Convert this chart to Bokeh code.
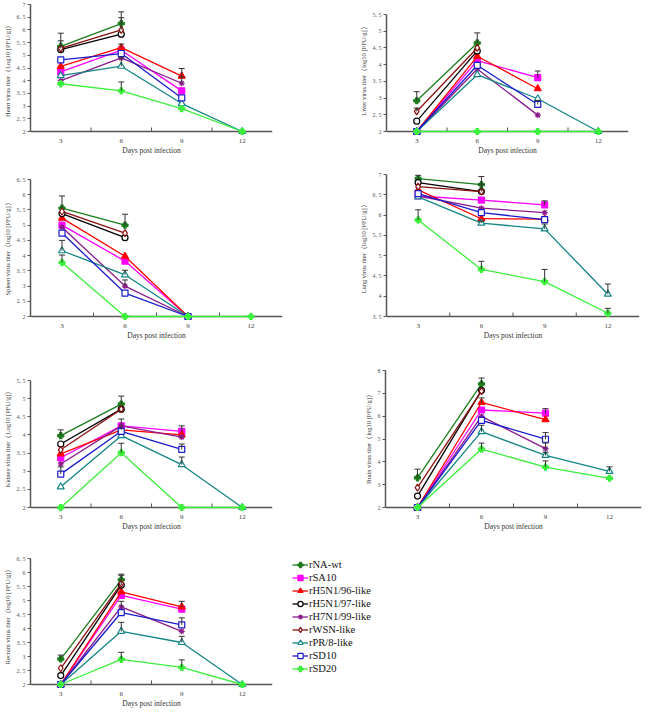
import numpy as np
from bokeh.plotting import figure
from bokeh.models import (Range1d, FixedTicker, Whisker, ColumnDataSource, TeeHead,
                          Legend, LegendItem, CustomJSTickFormatter, Span)
from bokeh.layouts import column, row
from bokeh.embed import file_html
from bokeh.resources import INLINE

# ---------------- data ----------------
days = [3, 6, 9, 12]
day_ticks = [3, 6, 9, 12]
day_boundaries = [4.5, 7.5, 10.5]
strains = ["rNA-wt", "rSA10", "rH5N1/96-like", "rH5N1/97-like", "rH7N1/99-like",
           "rWSN-like", "rPR/8-like", "rSD10", "rSD20"]

heart_vals = [
    [5.35, 6.25, None, None],
    [4.35, 5.20, 3.60, None],
    [4.56, 5.30, 4.18, None],
    [5.22, 5.83, None, None],
    [4.00, 4.90, 3.90, None],
    [5.27, 6.00, None, None],
    [4.20, 4.57, 3.10, 2.00],
    [4.82, 5.07, 3.32, None],
    [3.88, 3.60, 2.90, 2.00],
]
heart_errs = [
    [0.52, 0.46, 0, 0],
    [0, 0, 0, 0],
    [0, 0.14, 0.30, 0],
    [0, 0, 0, 0],
    [0, 0, 0.25, 0],
    [0.30, 0.48, 0, 0],
    [0, 0.35, 0, 0],
    [0, 0, 0, 0],
    [0, 0.35, 0, 0],
]

liver_vals = [
    [2.92, 4.65, None, None],
    [2.00, 4.12, 3.61, None],
    [2.00, 4.25, 3.28, None],
    [2.31, 4.41, None, None],
    [2.00, 3.87, 2.49, None],
    [2.60, 4.50, None, None],
    [2.00, 3.70, 2.98, 2.00],
    [2.00, 3.98, 2.81, None],
    [2.00, 2.00, 2.00, 2.00],
]
liver_errs = [
    [0.27, 0.30, 0, 0],
    [0, 0, 0.20, 0],
    [0, 0, 0, 0],
    [0, 0, 0, 0],
    [0, 0, 0, 0],
    [0.10, 0, 0, 0],
    [0, 0, 0, 0],
    [0, 0, 0.12, 0],
    [0, 0, 0, 0],
]

spleen_vals = [
    [5.56, 5.00, None, None],
    [5.00, 3.82, 2.00, None],
    [5.23, 3.98, 2.00, None],
    [5.38, 4.59, None, None],
    [4.93, 3.00, 2.00, None],
    [5.45, 4.74, None, None],
    [4.16, 3.37, 2.00, None],
    [4.74, 2.77, 2.00, None],
    [3.77, 2.00, 2.00, 2.00],
]
spleen_errs = [
    [0.40, 0.36, 0, 0],
    [0, 0, 0, 0],
    [0, 0, 0, 0],
    [0, 0, 0, 0],
    [0, 0.20, 0, 0],
    [0, 0, 0, 0],
    [0.34, 0.15, 0, 0],
    [0, 0, 0, 0],
    [0.25, 0, 0, 0],
]

lung_vals = [
    [6.90, 6.75, None, None],
    [6.47, 6.37, 6.25, None],
    [6.62, 5.91, 5.90, None],
    [6.80, 6.58, None, None],
    [6.47, 6.17, 6.06, None],
    [6.70, 6.58, None, None],
    [6.45, 5.80, 5.66, 4.05],
    [6.53, 6.06, 5.89, None],
    [5.88, 4.66, 4.36, 3.58],
]
lung_errs = [
    [0.08, 0.20, 0, 0],
    [0, 0, 0.10, 0],
    [0, 0, 0, 0],
    [0, 0.18, 0, 0],
    [0, 0, 0, 0],
    [0, 0, 0, 0],
    [0, 0.05, 0.12, 0.25],
    [0, 0, 0, 0],
    [0.25, 0.20, 0.30, 0.12],
]

kidney_vals = [
    [3.98, 4.85, None, None],
    [3.37, 4.25, 4.10, None],
    [3.48, 4.14, 4.00, None],
    [3.75, 4.71, None, None],
    [3.20, 4.25, 3.94, None],
    [3.59, 4.71, None, None],
    [2.57, 3.98, 3.18, 2.00],
    [2.92, 4.10, 3.60, None],
    [2.00, 3.51, 2.00, 2.00],
]
kidney_errs = [
    [0.16, 0.22, 0, 0],
    [0, 0, 0.15, 0],
    [0, 0.30, 0, 0],
    [0, 0, 0, 0],
    [0, 0, 0, 0],
    [0, 0, 0, 0],
    [0, 0, 0.21, 0],
    [0.20, 0, 0.15, 0],
    [0, 0.26, 0, 0],
]

brain_vals = [
    [3.30, 7.41, None, None],
    [2.00, 6.27, 6.13, None],
    [2.00, 6.60, 5.85, None],
    [2.50, 7.13, None, None],
    [2.00, 5.99, 4.58, None],
    [2.87, 7.10, None, None],
    [2.00, 5.32, 4.28, 3.58],
    [2.00, 5.82, 4.99, None],
    [2.00, 4.56, 3.77, 3.28],
]
brain_errs = [
    [0.38, 0.26, 0, 0],
    [0, 0, 0.20, 0],
    [0, 0.20, 0, 0],
    [0, 0, 0, 0],
    [0, 0, 0.24, 0],
    [0, 0, 0, 0],
    [0, 0.28, 0.14, 0.20],
    [0, 0, 0.29, 0],
    [0, 0.26, 0.27, 0],
]

rectum_vals = [
    [2.91, 5.74, None, None],
    [2.00, 5.18, 4.69, None],
    [2.00, 5.31, 4.77, None],
    [2.32, 5.55, None, None],
    [2.00, 4.77, 3.90, None],
    [2.58, 5.60, None, None],
    [2.00, 3.90, 3.50, 2.00],
    [2.00, 4.57, 4.13, None],
    [2.00, 2.90, 2.61, 2.00],
]
rectum_errs = [
    [0.14, 0.20, 0, 0],
    [0, 0, 0, 0],
    [0, 0, 0.20, 0],
    [0, 0.35, 0, 0],
    [0, 0.20, 0, 0],
    [0, 0, 0, 0],
    [0, 0.32, 0.22, 0],
    [0, 0, 0.25, 0],
    [0, 0.25, 0.27, 0],
]

half_ticks_2_7 = [2, 2.5, 3, 3.5, 4, 4.5, 5, 5.5, 6, 6.5, 7]
half_labels_2_7 = ["2", "2. 5", "3", "3. 5", "4", "4. 5", "5", "5. 5", "6", "6. 5", "7"]
ticks_2_55 = [2, 2.5, 3, 3.5, 4, 4.5, 5, 5.5]
labels_2_55 = ["2", "2. 5", "3", "3. 5", "4", "4. 5", "5", "5. 5"]
ticks_2_65 = [2, 2.5, 3, 3.5, 4, 4.5, 5, 5.5, 6, 6.5]
labels_2_65 = ["2", "2. 5", "3", "3. 5", "4", "4. 5", "5", "5. 5", "6", "6. 5"]
ticks_35_7 = [3.5, 4, 4.5, 5, 5.5, 6, 6.5, 7]
labels_35_7 = ["3. 5", "4", "4. 5", "5", "5. 5", "6", "6. 5", "7"]
ticks_2_8 = [2, 3, 4, 5, 6, 7, 8]
labels_2_8 = ["2", "3", "4", "5", "6", "7", "8"]

# ---------------- styles ----------------
colors = ["#1b7d1b", "#ff00ff", "#ff0000", "#000000", "#8b1a8b",
          "#8b1010", "#138585", "#1a1acc", "#3af03a"]
markers = ["plus", "square", "triangle", "circle", "asterisk",
           "diamond", "triangle", "square", "plus"]
fills = ["#1b7d1b", "#ff00ff", "#ff0000", "white", "#8b1a8b",
         "white", "white", "white", "#3af03a"]
sizes = [6, 6, 7, 6, 6, 7, 7, 6, 6]

SERIF = "Liberation Serif"
AXIS = "#555555"
EXT = 5  # px below y-min so markers on the baseline are not clipped
TOP = 2  # top border of every plot


def panel(vals, errs, ylabel, yticks, ylabels, fw, l, r, pad, H, bottom):
    ymin, ymax = yticks[0], yticks[-1]
    upp = (ymax - ymin) / H
    p = figure(frame_width=fw, frame_height=pad + H + EXT, output_backend="svg",
               toolbar_location=None,
               x_range=Range1d(1.5, 13.5),
               y_range=Range1d(ymin - EXT * upp, ymax + pad * upp),
               min_border_left=l, min_border_right=r, min_border_top=TOP,
               min_border_bottom=bottom)
    p.outline_line_color = None
    p.grid.visible = False
    p.background_fill_color = "white"
    p.border_fill_color = "white"

    # baseline (x axis line) at y = ymin, with category-boundary ticks pointing up
    p.add_layout(Span(location=ymin, dimension="width", line_color=AXIS,
                      line_width=1.5, level="glyph"))
    p.segment(x0=day_boundaries, x1=day_boundaries,
              y0=[ymin] * len(day_boundaries), y1=[ymin + 4 * upp] * len(day_boundaries),
              line_color=AXIS, line_width=1)

    xa = p.xaxis[0]
    xa.ticker = FixedTicker(ticks=day_ticks, minor_ticks=[])
    xa.axis_line_color = None
    xa.major_tick_line_color = None
    xa.minor_tick_line_color = None
    xa.major_tick_in = 0
    xa.major_tick_out = 0
    xa.major_label_standoff = 2
    xa.major_label_text_font = SERIF
    xa.major_label_text_font_size = "7px"
    xa.major_label_text_color = "#444444"
    xa.axis_label = "Days post infection"
    xa.axis_label_text_font = SERIF
    xa.axis_label_text_font_size = "7.5px"
    xa.axis_label_text_font_style = "normal"
    xa.axis_label_text_color = "#333333"
    xa.axis_label_standoff = 0

    ya = p.yaxis[0]
    ya.bounds = (ymin, ymax)
    ya.ticker = FixedTicker(ticks=yticks, minor_ticks=[])
    ya.formatter = CustomJSTickFormatter(
        args=dict(tks=yticks, lbls=ylabels),
        code="const i = tks.findIndex(v => Math.abs(v - tick) < 1e-9); return i >= 0 ? lbls[i] : '';")
    ya.major_tick_in = 0
    ya.major_tick_out = 3
    ya.major_tick_line_color = AXIS
    ya.minor_tick_line_color = None
    ya.axis_line_color = AXIS
    ya.axis_line_width = 1.5
    ya.major_label_standoff = 2
    ya.major_label_text_font = SERIF
    ya.major_label_text_font_size = "6px"
    ya.major_label_text_color = "#555555"
    ya.axis_label = ylabel
    ya.axis_label_text_font = SERIF
    ya.axis_label_text_font_size = "6.5px"
    ya.axis_label_text_font_style = "normal"
    ya.axis_label_text_color = "#333333"
    ya.axis_label_standoff = 3

    rends = []
    for i in range(len(strains)):
        x = np.array(days, dtype=float)
        y = np.array(vals[i], dtype=float)
        e = np.array(errs[i], dtype=float)
        src = ColumnDataSource(dict(x=x, y=y))
        ln = p.line("x", "y", source=src, line_color=colors[i], line_width=1.3,
                    level="annotation")
        mk = p.scatter("x", "y", source=src, marker=markers[i], size=sizes[i],
                       line_color=colors[i], fill_color=fills[i], line_width=1.2,
                       level="annotation")
        m = (~np.isnan(y)) & (e > 0)
        if m.any():
            es = ColumnDataSource(dict(x=x[m], lo=y[m], hi=y[m] + e[m]))
            wk = Whisker(base="x", lower="lo", upper="hi", source=es, dimension="height",
                         line_color="#333333", line_width=1,
                         upper_head=TeeHead(size=6, line_color="#333333", line_width=1),
                         lower_head=None, level="annotation")
            p.add_layout(wk)
        rends.append((ln, mk))
    return p, rends


# row 1: height 171 (2 + 134 + 35)
p_heart, _ = panel(heart_vals, heart_errs, "Heart virus titer（Log10 [PFU/g]）",
                   half_ticks_2_7, half_labels_2_7, 242, 29, 51, 2, 127, 35)
p_liver, _ = panel(liver_vals, liver_errs, "Liver virus titer（log10 [PFU/g]）",
                   ticks_2_55, labels_2_55, 242, 63, 18, 12, 117, 35)
# row 2: height 189 (2 + 148 + 39)
p_spleen, _ = panel(spleen_vals, spleen_errs, "Spleen virus titer（log10 [PFU/g]）",
                    ticks_2_65, labels_2_65, 252, 28, 42, 6, 137, 39)
p_lung, _ = panel(lung_vals, lung_errs, "Lung virus titer（log10 [PFU/g]）",
                  ticks_35_7, labels_35_7, 253, 62, 8, 1, 142, 39)
# row 3: height 178 (2 + 150 + 26)
p_kidney, _ = panel(kidney_vals, kidney_errs, "Kidney virus titer（Log10 [PFU/g]）",
                    ticks_2_55, labels_2_55, 242, 29, 51, 18, 127, 26)
p_brain, _ = panel(brain_vals, brain_errs, "Brain virus titer（log10 [PFU/g]）",
                   ticks_2_8, labels_2_8, 256, 62, 5, 8, 137, 26)
# row 4: height 173 (2 + 149 + 22)
p_rectum, rr = panel(rectum_vals, rectum_errs, "Rectum virus titer（log10 [PFU/g]）",
                     ticks_2_65, labels_2_65, 242, 29, 0, 18, 126, 22)

legend = Legend(items=[LegendItem(label=strains[i], renderers=[rr[i][0], rr[i][1]])
                       for i in range(len(strains))],
                location=(20, 14), label_text_font=SERIF, label_text_font_size="10.5px",
                label_text_color="#111111",
                glyph_width=16, glyph_height=13, label_height=13, spacing=0,
                padding=0, margin=0, border_line_color=None, background_fill_alpha=0,
                label_standoff=1)
p_rectum.add_layout(legend, "right")

layout = column(row(p_heart, p_liver), row(p_spleen, p_lung),
                row(p_kidney, p_brain), p_rectum)

open("out.html", "w").write(file_html(layout, INLINE))
